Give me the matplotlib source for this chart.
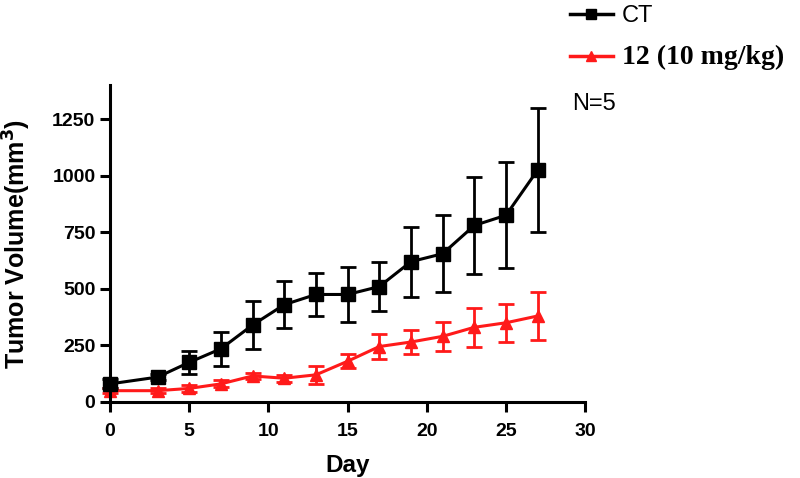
import matplotlib
matplotlib.use('Agg')
import matplotlib.pyplot as plt
from matplotlib.lines import Line2D

# Data
days = [0, 3, 5, 7, 9, 11, 13, 15, 17, 19, 21, 23, 25, 27]
ct_mean = [80, 110, 175, 235, 340, 430, 475, 475, 510, 620, 655, 780, 825, 1025]
ct_err = [20, 15, 50, 75, 105, 105, 97, 122, 108, 155, 170, 215, 235, 275]
drug_mean = [50, 50, 60, 80, 115, 105, 120, 180, 245, 265, 290, 330, 350, 380]
drug_err = [10, 10, 15, 15, 15, 15, 40, 30, 55, 55, 65, 85, 85, 105]

x_ticks = [0, 5, 10, 15, 20, 25, 30]
y_ticks = [0, 250, 500, 750, 1000, 1250]

plt.rcParams['font.family'] = ['Liberation Sans', 'DejaVu Sans']

fig = plt.figure(figsize=(8, 4.78), dpi=100)
ax = fig.add_axes([0.1375, 0.159, 0.594, 0.663])

red = '#ff1a1a'
ax.errorbar(days, ct_mean, yerr=ct_err, color='black', marker='s', markersize=10,
            linewidth=2.2, elinewidth=2, capsize=6, capthick=2, clip_on=False, zorder=3)
ax.errorbar(days, drug_mean, yerr=drug_err, color=red, marker='^', markersize=9,
            linewidth=2.2, elinewidth=2, capsize=6, capthick=2, clip_on=False, zorder=2)

ax.set_xlim(0, 30)
ax.set_ylim(0, 1400)
ax.set_xticks(x_ticks)
ax.set_yticks(y_ticks)

for side in ['top', 'right']:
    ax.spines[side].set_visible(False)
for side in ['left', 'bottom']:
    ax.spines[side].set_linewidth(2.2)

ax.tick_params(axis='both', direction='out', width=2.2, length=7, labelsize=14)
ax.tick_params(axis='x', pad=8)
for lbl in ax.get_xticklabels() + ax.get_yticklabels():
    lbl.set_fontweight('bold')

ax.set_xlabel('Day', fontsize=17.5, fontweight='bold', labelpad=10)
ax.set_ylabel('Tumor Volume(mm$^{\\mathbf{3}}$)', fontsize=18, fontweight='bold', labelpad=14)

# legend (line + marker only, as in the original)
handles = [
    Line2D([], [], color='black', marker='s', markersize=7, linewidth=2.5),
    Line2D([], [], color=red, marker='^', markersize=7, linewidth=2.5),
]
leg = fig.legend(handles, ['CT', '12 (10 mg/kg)'], loc='upper left',
                 bbox_to_anchor=(0.686, 1.033), frameon=False,
                 fontsize=17, handlelength=1.8, handletextpad=0.4, labelspacing=0.75)
leg.get_texts()[1].set_fontfamily('Liberation Serif')
leg.get_texts()[1].set_fontweight('bold')
leg.get_texts()[1].set_fontsize(20)

fig.text(0.715, 0.783, 'N=5', fontsize=17, ha='left', va='center')

fig.savefig('out.png', dpi=100)
